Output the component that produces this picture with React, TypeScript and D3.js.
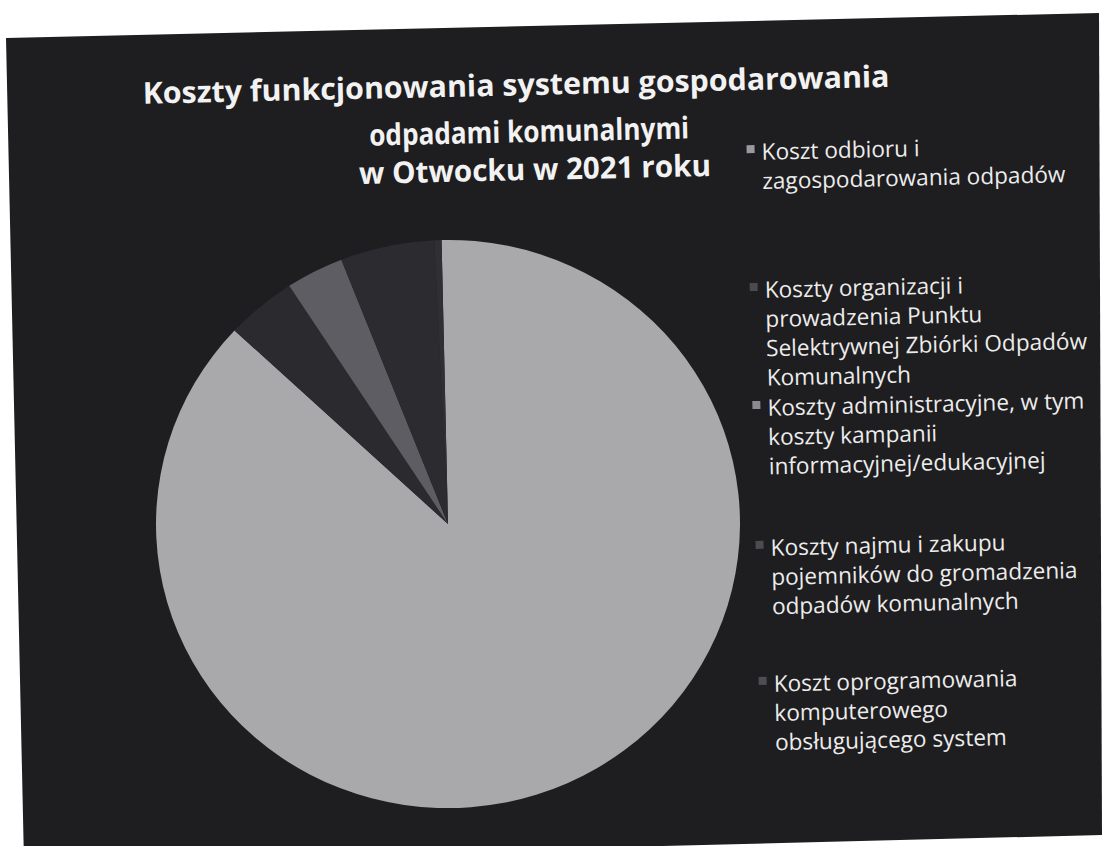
import React from 'react'
import * as d3 from 'd3'

// Data (shares of total cost, %)
const categories = [
  'Koszt odbioru i zagospodarowania odpadów',
  'Koszty organizacji i prowadzenia Punktu Selektrywnej Zbiórki Odpadów Komunalnych',
  'Koszty administracyjne, w tym koszty kampanii informacyjnej/edukacyjnej',
  'Koszty najmu i zakupu pojemników do gromadzenia odpadów komunalnych',
  'Koszt oprogramowania komputerowego obsługującego system'
]
const values = [87.3, 3.9, 3.2, 5.2, 0.4]

// legend text, wrapped as on the slide
const legendLines = [
  ['Koszt odbioru i', 'zagospodarowania odpadów'],
  ['Koszty organizacji i', 'prowadzenia Punktu', 'Selektrywnej Zbiórki Odpadów', 'Komunalnych'],
  ['Koszty administracyjne, w tym', 'koszty kampanii', 'informacyjnej/edukacyjnej'],
  ['Koszty najmu i zakupu', 'pojemników do gromadzenia', 'odpadów komunalnych'],
  ['Koszt oprogramowania', 'komputerowego', 'obsługującego system']
]

const titleLines = [
  'Koszty funkcjonowania systemu gospodarowania',
  'odpadami komunalnymi',
  'w Otwocku w 2021 roku'
]

// layout
const W = 1105
const H = 846
const cx = 448
const cy = 524
const radius = 292
const tilt = -1.3
const sliceColors = ['#a9a9ac', '#2b2a2f', '#5e5d64', '#2c2b30', '#303034']
const markerColors = ['#9a9a9e', '#4a4a4f', '#8a8a90', '#4c4c50', '#4e4e52']
const legendX = 770
const legendTops = [167, 305, 423, 563, 699]
const lineStep = 29.3
const titleLayout = [
  { x: 526, y: 97, w: 747 },
  { x: 538, y: 144, w: 320 },
  { x: 543, y: 182, w: 352 }
]

const App: React.FC = () => {
  const pie = d3.pie<number>().sort(null).value(d => d)
  const arcs = pie(values)
  const arc = d3.arc<d3.PieArcDatum<number>>().innerRadius(0).outerRadius(radius)

  return (
    <svg
      width={W}
      height={H}
      style={{ position: 'absolute', left: 0, top: 0 }}
      fontFamily="'Open Sans', Lato, sans-serif"
    >
      <rect width={W} height={H} fill="#ffffff" />
      <polygon points="6,38 1099,13 1102,835 24,862" fill="#1e1d1f" />

      <g transform={`rotate(${tilt}, ${cx}, ${cy})`}>
        {/* title */}
        {titleLines.map((t, i) => (
          <text
            key={t}
            x={titleLayout[i].x}
            y={titleLayout[i].y}
            textAnchor="middle"
            fontWeight="bold"
            fontSize={30}
            fill="#f2f2f2"
            textLength={titleLayout[i].w}
            lengthAdjust="spacingAndGlyphs"
          >
            {t}
          </text>
        ))}

        {/* pie */}
        <g transform={`translate(${cx},${cy}) scale(1,0.973)`}>
          {arcs.map((a, i) => (
            <path key={categories[i]} d={arc(a) || ''} fill={sliceColors[i]} />
          ))}
        </g>

        {/* legend */}
        {legendLines.map((lines, i) => (
          <g key={categories[i]}>
            <rect
              x={legendX - 15}
              y={legendTops[i] - 15}
              width={8}
              height={8}
              fill={markerColors[i]}
            />
            <text x={legendX} y={legendTops[i]} fontSize={22.6} fill="#ececec">
              {lines.map((l, j) => (
                <tspan key={j} x={legendX} y={legendTops[i] + j * lineStep}>
                  {l}
                </tspan>
              ))}
            </text>
          </g>
        ))}
      </g>
    </svg>
  )
}

export default App
